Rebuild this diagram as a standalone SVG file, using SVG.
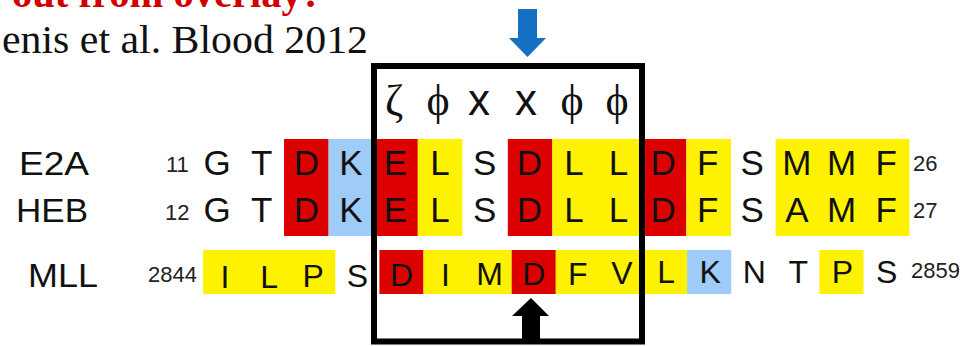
<svg xmlns="http://www.w3.org/2000/svg" width="966" height="346" viewBox="0 0 966 346">
<style>
.r{fill:#dc0000}.y{fill:#fff200}.b{fill:#9ecbf7}
.aa{font-family:"Liberation Sans",Arial,sans-serif;fill:#111;text-anchor:middle}
.up{font-size:35px}.ml{font-size:32px}
.lab{font-family:"Liberation Sans",Arial,sans-serif;fill:#111;font-size:33px}
.num{font-family:"Liberation Sans",Arial,sans-serif;fill:#222;font-size:22px}
.gk{font-family:"Liberation Serif","DejaVu Serif",serif;font-size:44px;fill:#111;text-anchor:middle}
.gx{font-family:"Liberation Sans",Arial,sans-serif;font-size:44px;fill:#111;text-anchor:middle}
</style>
<rect width="966" height="346" fill="#fff"/>
<g id="title">
<text x="12" y="7" font-family="Liberation Serif,'Times New Roman',serif" font-weight="bold" font-size="41" fill="#d00000" textLength="310" lengthAdjust="spacingAndGlyphs">out from overlay?</text>
<text x="2" y="53" font-family="Liberation Serif,'Times New Roman',serif" font-size="41" fill="#111" textLength="366" lengthAdjust="spacingAndGlyphs">enis et al. Blood 2012</text>
</g>
<g id="highlights">
<rect class="r" x="284" y="139" width="44.6" height="97"/>
<rect class="b" x="328.6" y="139" width="44.6" height="97"/>
<rect class="r" x="373.2" y="139" width="44.6" height="97"/>
<rect class="y" x="417.8" y="139" width="44.6" height="97"/>
<rect class="r" x="507.8" y="139" width="44.6" height="97"/>
<rect class="y" x="552.4" y="139" width="89.4" height="97"/>
<rect class="r" x="641.8" y="139" width="44.6" height="97"/>
<rect class="y" x="686.4" y="139" width="44.6" height="97"/>
<rect class="y" x="775.6" y="139" width="133.8" height="97"/>
<rect class="y" x="203" y="250" width="132.3" height="44"/>
<rect class="r" x="379.4" y="250" width="44.1" height="44"/>
<rect class="y" x="423.5" y="250" width="88.2" height="44"/>
<rect class="r" x="511.7" y="250" width="44.1" height="44"/>
<rect class="y" x="555.8" y="250" width="131.3" height="44"/>
<rect class="b" x="687.1" y="250" width="44.1" height="44"/>
<rect class="y" x="819.4" y="250" width="44.1" height="44"/>
</g>
<g id="motif">
<text class="gk" x="394" y="115">ζ</text>
<text class="gk" x="438" y="115">ϕ</text>
<text class="gx" x="479" y="115">x</text>
<text class="gx" x="526" y="115">x</text>
<text class="gk" x="572" y="115">ϕ</text>
<text class="gk" x="617" y="115">ϕ</text>
</g>
<g id="E2A">
<text class="lab" x="19" y="175" textLength="70" lengthAdjust="spacingAndGlyphs">E2A</text>
<text class="num" x="166" y="172">11</text>
<text class="aa up" y="175"><tspan x="217.1">G</tspan><tspan x="261.7">T</tspan><tspan x="306.3">D</tspan><tspan x="350.9">K</tspan><tspan x="395.5">E</tspan><tspan x="440.1">L</tspan><tspan x="484.7">S</tspan><tspan x="529.3">D</tspan><tspan x="573.9">L</tspan><tspan x="618.5">L</tspan><tspan x="663.1">D</tspan><tspan x="707.7">F</tspan><tspan x="752.3">S</tspan><tspan x="796.9">M</tspan><tspan x="841.5">M</tspan><tspan x="886.1">F</tspan></text>
<text class="num" x="913" y="171">26</text>
</g>
<g id="HEB">
<text class="lab" x="16" y="222" textLength="72" lengthAdjust="spacingAndGlyphs">HEB</text>
<text class="num" x="165" y="220">12</text>
<text class="aa up" y="222"><tspan x="217.1">G</tspan><tspan x="261.7">T</tspan><tspan x="306.3">D</tspan><tspan x="350.9">K</tspan><tspan x="395.5">E</tspan><tspan x="440.1">L</tspan><tspan x="484.7">S</tspan><tspan x="529.3">D</tspan><tspan x="573.9">L</tspan><tspan x="618.5">L</tspan><tspan x="663.1">D</tspan><tspan x="707.7">F</tspan><tspan x="752.3">S</tspan><tspan x="796.9">A</tspan><tspan x="841.5">M</tspan><tspan x="886.1">F</tspan></text>
<text class="num" x="913" y="218">27</text>
</g>
<g id="MLL">
<text class="lab" x="28" y="287" font-size="36" textLength="70" lengthAdjust="spacingAndGlyphs">MLL</text>
<text class="num" x="148" y="282">2844</text>
<text class="aa ml" y="286"><tspan x="225.05" y="288">I</tspan><tspan x="269.15" y="288">L</tspan><tspan x="313.25" y="287">P</tspan><tspan x="357.35" y="287">S</tspan><tspan x="401.45" y="286">D</tspan><tspan x="445.55" y="286">I</tspan><tspan x="489.65" y="285">M</tspan><tspan x="533.75" y="285">D</tspan><tspan x="577.85" y="285">F</tspan><tspan x="621.95" y="284">V</tspan><tspan x="666.05" y="283">L</tspan><tspan x="710.15" y="283">K</tspan><tspan x="754.25" y="283">N</tspan><tspan x="798.35" y="283">T</tspan><tspan x="842.45" y="283">P</tspan><tspan x="886.55" y="283">S</tspan></text>
<text class="num" x="911" y="278">2859</text>
</g>
<g id="connectors">
<rect x="374" y="66" width="268" height="275.5" fill="none" stroke="#000" stroke-width="6"/>
<polygon points="518,9 537,9 537,38 546,38 527.5,57 509,38 518,38" fill="#1570c4"/>
<polygon points="531,298 549,316 540,316 540,342 522,342 522,316 512,316" fill="#000"/>
</g>
</svg>
